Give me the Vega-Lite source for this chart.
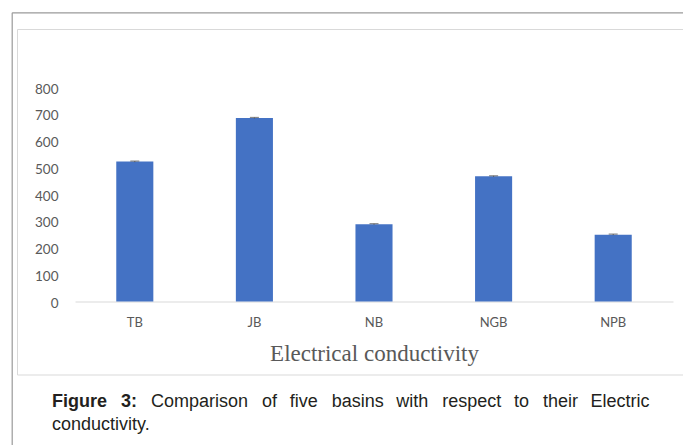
{
  "$schema": "https://vega.github.io/schema/vega-lite/v6.json",
  "autosize": "none",
  "width": 683,
  "height": 345.5,
  "padding": {"left": 17, "top": 29, "right": -17, "bottom": 70.5},
  "background": "#ffffff",
  "data": {
    "values": [
      {"basin": "TB", "ec": 523, "err": 2},
      {"basin": "JB", "ec": 686, "err": 2},
      {"basin": "NB", "ec": 289, "err": 2},
      {"basin": "NGB", "ec": 468, "err": 2},
      {"basin": "NPB", "ec": 250, "err": 2}
    ]
  },
  "transform": [
    {"calculate": "datum.ec - datum.err", "as": "lo"},
    {"calculate": "datum.ec + datum.err", "as": "hi"}
  ],
  "title": {
    "text": "Figure\u2002\u00a03:",
    "subtitle": [
      "\u200b\u2003\u2003\u2003\u2003\u2003\u2002Comparison\u2002\u00a0of\u2002\u2009five\u2002\u00a0basins\u2002\u2009with\u2002\u00a0respect\u2002\u2009to\u2002\u00a0their\u2002\u2009Electric",
      "conductivity."
    ],
    "orient": "bottom",
    "anchor": "start",
    "frame": "group",
    "dx": 35,
    "offset": -68.5,
    "font": "Liberation Sans",
    "fontSize": 18,
    "fontWeight": "bold",
    "color": "#231f20",
    "subtitleFont": "Liberation Sans",
    "subtitleFontSize": 18,
    "subtitleFontWeight": "normal",
    "subtitleColor": "#231f20",
    "subtitleLineHeight": 23,
    "subtitlePadding": -18
  },
  "layer": [
    {
      "encoding": {
        "x": {
          "field": "basin",
          "type": "nominal",
          "sort": null,
          "scale": {"range": [58, 656], "paddingInner": 0, "paddingOuter": 0},
          "axis": {
            "orient": "bottom",
            "title": "Electrical conductivity",
            "titleFont": "Liberation Serif",
            "titleFontSize": 23,
            "titleFontWeight": "normal",
            "titleColor": "#595959",
            "titlePadding": 13,
            "labelFont": "Lato",
            "labelFontSize": 13,
            "labelColor": "#595959",
            "labelAngle": 0,
            "labelPadding": 15,
            "ticks": false,
            "tickSize": 0,
            "domainColor": "#d9d9d9",
            "domainWidth": 1,
            "offset": -73
          }
        }
      },
      "layer": [
        {
          "mark": {"type": "bar", "color": "#4472c4", "width": {"band": 0.31}},
          "encoding": {
            "y": {
              "field": "ec",
              "type": "quantitative",
              "scale": {"domain": [0, 800], "range": [272.5, 58.5], "nice": false},
              "axis": {
                "orient": "left",
                "title": null,
                "values": [0, 100, 200, 300, 400, 500, 600, 700, 800],
                "grid": false,
                "domain": false,
                "ticks": false,
                "tickSize": 0,
                "labelFont": "Lato",
                "labelFontSize": 13.5,
                "labelColor": "#595959",
                "labelPadding": 4,
                "labelOffset": 1.5,
                "offset": -45
              }
            }
          }
        },
        {
          "mark": {"type": "rule", "color": "#595959", "strokeWidth": 1},
          "encoding": {
            "y": {"field": "lo", "type": "quantitative"},
            "y2": {"field": "hi"}
          }
        },
        {
          "mark": {"type": "tick", "color": "#595959", "thickness": 1.2, "size": 9},
          "encoding": {"y": {"field": "hi", "type": "quantitative"}}
        }
      ]
    },
    {
      "mark": {"type": "point", "opacity": 0},
      "encoding": {
        "x": {
          "field": "basin",
          "type": "nominal",
          "sort": null,
          "scale": {"range": [-5.3, 690]},
          "axis": {
            "orient": "top",
            "title": null,
            "labels": false,
            "ticks": false,
            "grid": false,
            "domainColor": "#9a9a9a",
            "domainWidth": 1.2,
            "offset": 16.7
          }
        },
        "y": {
          "field": "ec",
          "type": "quantitative",
          "scale": {"domain": [0, 800], "range": [416, -16.7], "nice": false},
          "axis": {
            "orient": "left",
            "title": null,
            "labels": false,
            "ticks": false,
            "grid": false,
            "domainColor": "#9a9a9a",
            "domainWidth": 1.2,
            "offset": 5.3
          }
        }
      }
    }
  ],
  "resolve": {
    "scale": {"x": "independent", "y": "independent"},
    "axis": {"x": "independent", "y": "independent"}
  },
  "config": {
    "view": {"stroke": "#d9d9d9", "strokeWidth": 1, "fill": "#ffffff"}
  }
}
